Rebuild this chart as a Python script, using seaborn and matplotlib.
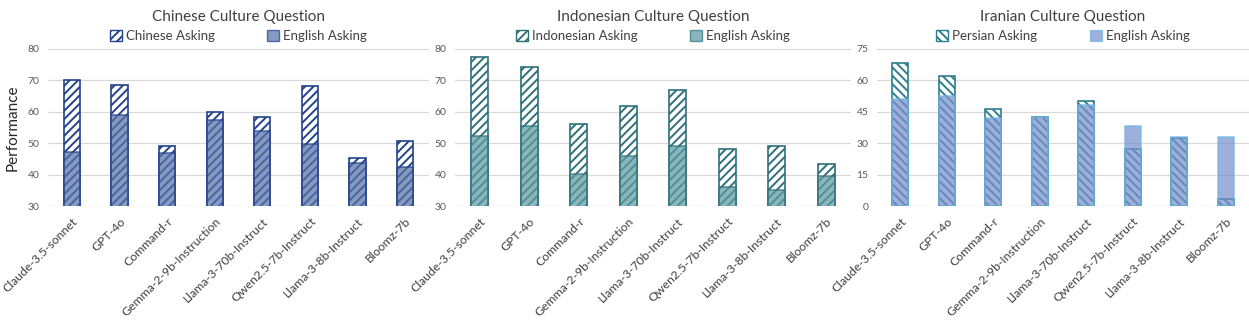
import seaborn as sns
from matplotlib import pyplot as plt
from matplotlib.patches import Patch

models = ["Claude-3.5-sonnet", "GPT-4o", "Command-r", "Gemma-2-9b-Instruction",
          "Llama-3-70b-Instruct", "Qwen2.5-7b-Instruct", "Llama-3-8b-Instruct", "Bloomz-7b"]

chinese_native = [70.2, 68.5, 49.0, 59.9, 58.3, 68.1, 45.2, 50.7]
chinese_english = [47.2, 59.0, 46.9, 57.5, 54.0, 49.9, 43.7, 42.4]

indo_native = [77.6, 74.4, 56.0, 61.9, 66.8, 48.3, 49.1, 43.5]
indo_english = [52.3, 55.4, 40.3, 45.9, 49.0, 35.9, 35.0, 39.5]

iran_native = [68.5, 62.2, 46.3, 42.3, 50.3, 27.4, 32.5, 3.5]
iran_english = [51.1, 52.6, 41.9, 42.5, 48.2, 38.1, 32.8, 33.1]

sns.set_style("white")
plt.rcParams['font.family'] = ['Lato', 'DejaVu Sans']
plt.rcParams['hatch.linewidth'] = 1.4

fig = plt.figure(figsize=(12.49, 3.2), dpi=100)
W, H = 1249, 320


def make_ax(x0, x1, y0=49, y1=206):
    return fig.add_axes([x0 / W, 1 - y1 / H, (x1 - x0) / W, (y1 - y0) / H])


panels = [
    dict(ax=make_ax(48, 429), title="Chinese Culture Question", native=chinese_native,
         english=chinese_english, native_label="Chinese Asking", edge="#23428A",
         fill="#5872A8", eng_edge="#23428A", hatch="////", ylim=(30, 80), step=10),
    dict(ax=make_ax(455, 851), title="Indonesian Culture Question", native=indo_native,
         english=indo_english, native_label="Indonesian Asking", edge="#2F707B",
         fill="#5E9CA3", eng_edge="#2F707B", hatch="////", ylim=(30, 80), step=10),
    dict(ax=make_ax(877, 1249), title="Iranian Culture Question", native=iran_native,
         english=iran_english, native_label="Persian Asking", edge="#2E7E90",
         fill="#7890CC", eng_edge="#6CB8E2", hatch="\\\\\\\\", ylim=(0, 75), step=15),
]

for p in panels:
    ax = p["ax"]
    sns.barplot(x=models, y=p["native"], ax=ax, width=0.34, color="white")
    for bar in ax.containers[-1]:
        bar.set_facecolor("white")
        bar.set_edgecolor(p["edge"])
        bar.set_hatch(p["hatch"])
        bar.set_linewidth(1.2)
        bar.set_zorder(2)
    sns.barplot(x=models, y=p["english"], ax=ax, width=0.34, color=p["fill"])
    for bar in ax.containers[-1]:
        bar.set_facecolor(p["fill"])
        bar.set_alpha(0.72)
        bar.set_edgecolor(p["eng_edge"])
        bar.set_linewidth(1.2)
        bar.set_zorder(3)

    lo, hi = p["ylim"]
    ax.set_ylim(lo, hi)
    ax.set_yticks(range(lo, hi + 1, p["step"]))
    ax.set_xlim(-0.5, 7.5)
    ax.yaxis.grid(True, color="#D9D9D9", linewidth=0.9)
    ax.set_axisbelow(True)
    sns.despine(ax=ax, left=True, bottom=True)
    ax.tick_params(axis="both", length=0)
    ax.tick_params(axis="y", labelsize=7.5, labelcolor="#595959", pad=6)
    ax.tick_params(axis="x", pad=7)
    ax.set_xticks(range(len(models)))
    ax.set_xticklabels(models, rotation=45, ha="right", rotation_mode="anchor",
                       fontsize=8.8, color="#404040")
    ax.set_title(p["title"], fontsize=11, color="#404040", pad=20)

    handles = [
        Patch(facecolor="white", edgecolor=p["edge"], hatch=p["hatch"], label=p["native_label"]),
        Patch(facecolor=p["fill"], alpha=0.72, edgecolor=p["eng_edge"], label="English Asking"),
    ]
    ax.legend(handles=handles, ncol=2, frameon=False, loc="lower center",
              bbox_to_anchor=(0.5, 0.97), fontsize=9.5, columnspacing=4,
              handlelength=0.9, handleheight=0.9, handletextpad=0.3,
              labelcolor="#404040")

panels[0]["ax"].set_ylabel("Performance", fontsize=11, color="#262626", labelpad=6)

fig.savefig("out.png", dpi=100)
